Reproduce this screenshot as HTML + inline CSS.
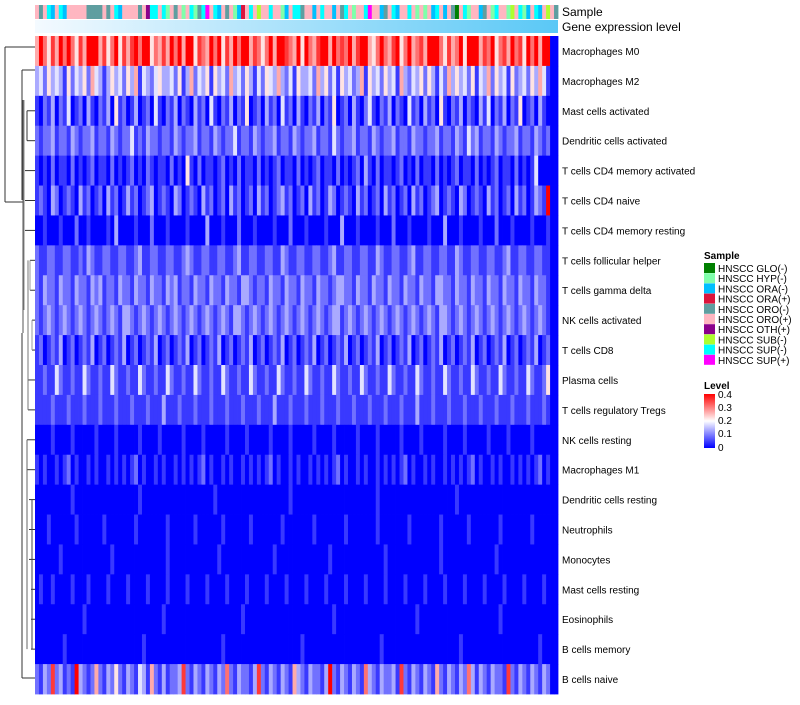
<!DOCTYPE html>
<html><head><meta charset="utf-8"><style>
body{margin:0;background:#fff;width:800px;height:700px;overflow:hidden;font-family:"Liberation Sans",sans-serif}
</style></head><body>
<svg id="c" width="800" height="700" xmlns="http://www.w3.org/2000/svg">
<defs>
<linearGradient id="gexp" x1="0" x2="1" y1="0" y2="0"><stop offset="0" stop-color="#f4faff"/><stop offset="1" stop-color="#5ac8f6"/></linearGradient>
<linearGradient id="lvl" x1="0" x2="0" y1="0" y2="1"><stop offset="0" stop-color="#ff0000"/><stop offset="0.5" stop-color="#ffffff"/><stop offset="1" stop-color="#0000ff"/></linearGradient>
</defs>
<g id="dendro"></g>
<g id="cells"></g>
<g id="ann"></g>
<rect x="35" y="20" width="523" height="13" fill="url(#gexp)"/>
<text x="562" y="16" font-size="12">Sample</text>
<text x="562" y="31" font-size="12">Gene expression level</text>
<g id="labels"></g>
<g id="legend">
<text x="704" y="259" font-size="10" font-weight="bold">Sample</text>
</g>
<g>
<text x="704" y="389" font-size="10" font-weight="bold">Level</text>
<rect x="704" y="394" width="11" height="54" fill="url(#lvl)"/>
<text x="718" y="398" font-size="10">0.4</text>
<text x="718" y="411" font-size="10">0.3</text>
<text x="718" y="424" font-size="10">0.2</text>
<text x="718" y="437" font-size="10">0.1</text>
<text x="718" y="451" font-size="10">0</text>
</g>
</svg>
<script>
const rowNames=["Macrophages M0","Macrophages M2","Mast cells activated","Dendritic cells activated","T cells CD4 memory activated","T cells CD4 naive","T cells CD4 memory resting","T cells follicular helper","T cells gamma delta","NK cells activated","T cells CD8","Plasma cells","T cells regulatory  Tregs","NK cells resting","Macrophages M1","Dendritic cells resting","Neutrophils","Monocytes","Mast cells resting","Eosinophils","B cells memory","B cells naive"];
const sampleCodes="POPUAPUAPPPPPOOOOPOPUAPPPPOPTUUPUHPOPHPUHOUVPUAPOPHARPUPSPPUPPHAPUUOPPAPUPPAPOUPHPPUVPPAOPUAPPUPHPHPAUPAPOGPUHPPAOPHUPPHSPUHAPUAPSPO";
const sampleCats=["G","H","A","R","O","P","T","S","U","V"];
const sampleLabels=["HNSCC GLO(-)","HNSCC HYP(-)","HNSCC ORA(-)","HNSCC ORA(+)","HNSCC ORO(-)","HNSCC ORO(+)","HNSCC OTH(+)","HNSCC SUB(-)","HNSCC SUP(-)","HNSCC SUP(+)"];
const sampleColors=["#008000","#7fffaa","#00bfff","#dc143c","#5f9ea0","#ffb6c1","#8b008b","#adff2f","#00ffff","#ff00ff"];
// digit d => level d/9*0.4
const levels=[
"6975869797586999685795868979957686979699587697958697996875796998769597689969787968996579768957967869997586795999687957869785979699",
"3425343152435264313534253614324533425136243515342634253142543632415334263524153423615342534163243525314263534251436253415234253641",
"1021302140120310213051201301204102130210312041021302150120312041203102130215012031024102130210412031205102130210314021302150120310",
"2122312213212231221321224121322122132122312213212241221321223122132122312214212231221321223122132212231221321423122132122312213212",
"1010201102010120110201012010210110201051020110120102011020101201102010120110201012031020110120102011020101201102010120110201014",
"1210320121031201203120131201230121032012103120120312012031201231201203120132012103120120312012031201230121032012103120120312013219",
"0010001000200100001030000100020001000010000300010002000100001000200010000100030001000010002000100001000300010000100020001000010001",
"2112211221121321122112211231122112211232112211221123112211221132112211221123112211221132112211231122112211321122112211231122112211",
"2132213221322132312213221322132213231221322132213221332122132213221322132212332213221322132213221322133221322132213221322132213221",
"2123212321232123212321332123212321232123212321232133212321232123212321232123312321232123212321232123213321232123212321232123212321",
"1201213012012130120121301201213012012130120121301201213012012130120121301201213012012130120121301201213012012130120121301201213012",
"1121142112114211211421121142112114211211421121142112114211211421121142112114211211421121142112114211211421121142112114211211421125",
"1111211121112111211121112111211131112111211121112111211121113111211121112111211121112111211121113111211121112111211121112111211121",
"0000100001000001000010000010000100000100001000001000010000010000100000100001000001000010000010000100000100001000001000010000010000",
"1010010120100101001010101201001010010101012010010100101010120100101001010101201001010010101012010010100101010120100101001010101201",
"0000000001000000000000000010000000000000000001000000000000000000100000000000000000000010000000000000000000100000000000000000000000",
"0001000000100000010000000100000001000000100000010000001000000010000000100000001000000010000000100000001000000100000001000000010000",
"0000001000000000000100000000000001000000000000100000000000001000000000000010000000000000100000000000001000000000000010000000000000",
"0100100001000100001000010000100001000010000100001000010000100001000010000100001000010000100001000010000100001000010000100001000010",
"0000000000001000000000000000000010000000000000000000100000000000000000000001000000000000000000001000000000000000000001000000000000",
"0000000100000000000000000001000000000000000000010000000000000000000100000000000000000001000000000000000000010000000000000000000100",
"2132823121932126213252132143162131223821321321327213221382132132163213221392132132173213223182132132162132132731321322182132132132"
];
const NS="http://www.w3.org/2000/svg";
const X0=35,X1=558,Y0=36,Y1=694;
const nCols=sampleCodes.length, nRows=rowNames.length;
const cw=(X1-X0)/nCols, rh=(Y1-Y0)/nRows;
function xPos(j){return X0+j*cw}
function yPos(i){return Y0+i*rh}
function color(v){
 let t=Math.max(0,Math.min(0.4,v));
 if(t<=0.2){const f=t/0.2;return `rgb(${Math.round(255*f)},${Math.round(255*f)},255)`}
 const f=(t-0.2)/0.2;return `rgb(255,${Math.round(255*(1-f))},${Math.round(255*(1-f))})`;
}
function mk(tag,attrs,parent){const e=document.createElementNS(NS,tag);for(const k in attrs)e.setAttribute(k,attrs[k]);parent.appendChild(e);return e}
const cells=document.getElementById('cells');
for(let i=0;i<nRows;i++){
 const s=levels[i];
 for(let j=0;j<nCols;j++){
  const d=+(s[j]||0);
  const r=mk('rect',{x:xPos(j).toFixed(2),y:yPos(i).toFixed(2),width:(cw+0.4).toFixed(2),height:(rh+0.4).toFixed(2),fill:color(d/9*0.4)},cells);
  
  
 }
 const t=mk('text',{x:562,y:(yPos(i)+rh/2+4).toFixed(1),'font-size':10},document.getElementById('labels'));
 t.textContent=rowNames[i];
 
 
}
const ann=document.getElementById('ann');
for(let j=0;j<nCols;j++){
 const k=sampleCats.indexOf(sampleCodes[j]);
 const r=mk('rect',{x:xPos(j).toFixed(2),y:5,width:(cw+0.4).toFixed(2),height:14,fill:sampleColors[k]},ann);
 
 
}
const leg=document.getElementById('legend');
for(let k=0;k<sampleLabels.length;k++){
 const y=263+k*10.2;
 const r=mk('rect',{x:704,y:y,width:11,height:10,fill:sampleColors[k]},leg);
 
 
 const t=mk('text',{x:718,y:y+9,'font-size':10},leg);
 t.textContent=sampleLabels[k];
 
 
}
// dendrogram (approximate)
const dg=document.getElementById('dendro');
function ln(x1,y1,x2,y2,c){const l=mk('line',{x1,y1,x2,y2,stroke:c||'#333','stroke-width':1},dg);}
const cy=i=>yPos(i)+rh/2;
ln(5,47,35,47);ln(5,47,5,202);ln(5,202,23,202);
ln(23,100,23,333,'#555');ln(24,100,24,310,'#888');
ln(22,70,35,70);ln(22,70,22,200);
ln(27,cy(2),35,cy(2));ln(27,cy(3),35,cy(3));ln(27,cy(2),27,cy(3));
ln(25,cy(4),35,cy(4));ln(25,cy(5),35,cy(5));ln(25,cy(6),35,cy(6));
ln(30,cy(7),35,cy(7));ln(30,cy(8),35,cy(8));ln(30,cy(7),30,cy(8),'#999');
ln(32,cy(9),35,cy(9));ln(32,cy(10),35,cy(10));ln(32,cy(9),32,cy(10),'#999');
ln(28,cy(11),35,cy(11));ln(28,cy(12),35,cy(12));ln(28,cy(7),28,cy(12),'#777');
ln(27,cy(13),35,cy(13));ln(27,cy(14),35,cy(14));
ln(29,cy(15),35,cy(15));ln(29,cy(16),35,cy(16));ln(29,cy(17),35,cy(17));
ln(31,cy(18),35,cy(18));ln(31,cy(19),35,cy(19));ln(31,cy(20),35,cy(20));
ln(32,cy(15),32,cy(20),'#444');ln(27,cy(13),27,cy(20),'#666');
ln(22,333,22,678);ln(22,678,35,678);
</script>
</body></html>
